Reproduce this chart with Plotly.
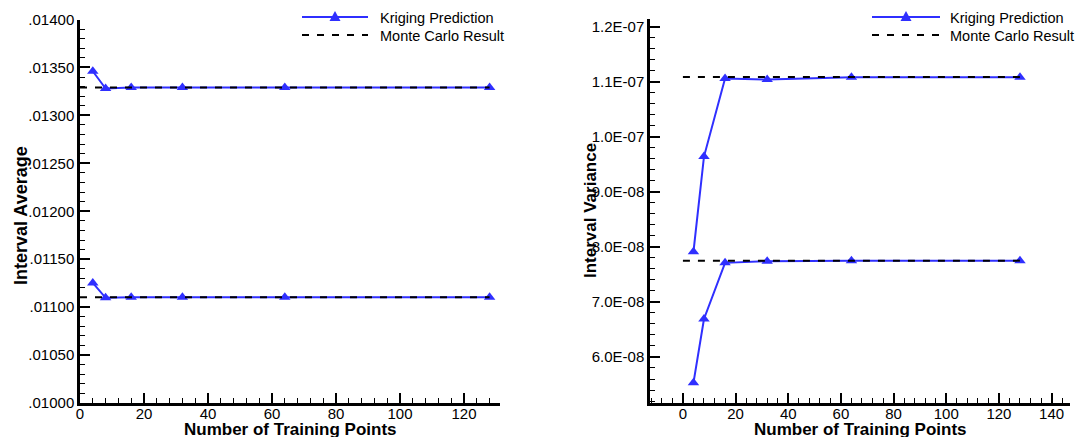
import plotly.graph_objects as go

W, H = 1088, 437

# ---------------- data ----------------
n_train = [4, 8, 16, 32, 64, 128]
mc_x = [0, 128]

avg_upper_kriging = [0.01346, 0.01328, 0.01329, 0.01329, 0.01329, 0.01329]
avg_upper_mc = [0.013292, 0.013292]
avg_lower_kriging = [0.011252, 0.011097, 0.011103, 0.011103, 0.011103, 0.011103]
avg_lower_mc = [0.011104, 0.011104]

var_upper_kriging = [7.91e-8, 9.64e-8, 1.106e-7, 1.104e-7, 1.108e-7, 1.108e-7]
var_upper_mc = [1.1085e-7, 1.1085e-7]
var_lower_kriging = [5.53e-8, 6.69e-8, 7.71e-8, 7.74e-8, 7.75e-8, 7.75e-8]
var_lower_mc = [7.75e-8, 7.75e-8]

avg_tickvals = [0.0100, 0.0105, 0.0110, 0.0115, 0.0120, 0.0125, 0.0130, 0.0135, 0.0140]
avg_ticktext = [".01000", ".01050", ".01100", ".01150", ".01200", ".01250", ".01300", ".01350", ".01400"]
var_tickvals = [6e-8, 7e-8, 8e-8, 9e-8, 1.0e-7, 1.1e-7, 1.2e-7]
var_ticktext = ["6.0E-08", "7.0E-08", "8.0E-08", "9.0E-08", "1.0E-07", "1.1E-07", "1.2E-07"]

legend_labels = ["Kriging Prediction", "Monte Carlo Result"]

# ---------------- styles ----------------
BLUE = "#2f2fff"
FONT = "Liberation Sans, Arial, sans-serif"


def X(px):
    return px / W


def Y(py):
    return 1 - py / H


fig = go.Figure()

krig_style = dict(mode="lines+markers", line=dict(color=BLUE, width=2),
                  marker=dict(symbol="triangle-up", size=10, color=BLUE),
                  showlegend=False, hoverinfo="skip")
mc_style = dict(mode="lines", line=dict(color="black", width=2, dash="7px,8px"),
                showlegend=False, hoverinfo="skip")

fig.add_trace(go.Scatter(x=n_train, y=avg_upper_kriging, xaxis="x", yaxis="y", **krig_style))
fig.add_trace(go.Scatter(x=n_train, y=avg_lower_kriging, xaxis="x", yaxis="y", **krig_style))
fig.add_trace(go.Scatter(x=mc_x, y=avg_upper_mc, xaxis="x", yaxis="y", **mc_style))
fig.add_trace(go.Scatter(x=mc_x, y=avg_lower_mc, xaxis="x", yaxis="y", **mc_style))

fig.add_trace(go.Scatter(x=n_train, y=var_upper_kriging, xaxis="x2", yaxis="y2", **krig_style))
fig.add_trace(go.Scatter(x=n_train, y=var_lower_kriging, xaxis="x2", yaxis="y2", **krig_style))
fig.add_trace(go.Scatter(x=mc_x, y=var_upper_mc, xaxis="x2", yaxis="y2", **mc_style))
fig.add_trace(go.Scatter(x=mc_x, y=var_lower_mc, xaxis="x2", yaxis="y2", **mc_style))

common_axis = dict(showline=True, linecolor="black", linewidth=2.5, mirror=False,
                   showgrid=False, zeroline=False, ticks="inside", ticklen=10,
                   tickwidth=2, tickcolor="black", automargin=False,
                   tickfont=dict(family=FONT, size=15, color="black"))

fig.update_layout(
    width=W, height=H,
    margin=dict(l=0, r=0, t=0, b=0, autoexpand=False),
    paper_bgcolor="white", plot_bgcolor="white",
    showlegend=False,
    xaxis=dict(domain=[X(80), X(500)], range=[0, 131.25], anchor="y",
               tickmode="linear", tick0=0, dtick=20, ticklabelstandoff=-5,
               minor=dict(ticks="inside", ticklen=5, tickwidth=1, tickcolor="black",
                          tickmode="linear", tick0=0, dtick=4, showgrid=False),
               **common_axis),
    yaxis=dict(domain=[Y(403), Y(19.5)], range=[0.010, 0.014], anchor="x",
               tickmode="array", tickvals=avg_tickvals, ticktext=avg_ticktext,
               minor=dict(ticks="inside", ticklen=5, tickwidth=1, tickcolor="black",
                          tickmode="linear", tick0=0.010, dtick=0.0001, showgrid=False),
               **common_axis),
    xaxis2=dict(domain=[X(650), X(1070)], range=[-12.5, 147], anchor="y2",
                tickmode="linear", tick0=0, dtick=20, ticklabelstandoff=-5,
                minor=dict(ticks="inside", ticklen=5, tickwidth=1, tickcolor="black",
                           tickmode="linear", tick0=0, dtick=4, showgrid=False),
                **common_axis),
    yaxis2=dict(domain=[Y(403), Y(19)], range=[5.164e-8, 1.214e-7], anchor="x2",
                tickmode="array", tickvals=var_tickvals, ticktext=var_ticktext,
                minor=dict(ticks="inside", ticklen=5, tickwidth=1, tickcolor="black",
                           tickmode="linear", tick0=0, dtick=2e-9, showgrid=False),
                **common_axis),
)

annotations = []
shapes = []

# axis titles
title_font = dict(family=FONT, size=17, color="black")
for cx in (290, 860):
    annotations.append(dict(text="<b>Number of Training Points</b>", x=X(cx), y=Y(429.5),
                            xref="paper", yref="paper", xanchor="center", yanchor="middle",
                            showarrow=False, font=title_font))
annotations.append(dict(text="<b>Interval Average</b>", x=X(21), y=Y(216),
                        xref="paper", yref="paper", xanchor="center", yanchor="middle",
                        textangle=-90, showarrow=False,
                        font=dict(family=FONT, size=18, color="black")))
annotations.append(dict(text="<b>Interval Variance</b>", x=X(590), y=Y(211),
                        xref="paper", yref="paper", xanchor="center", yanchor="middle",
                        textangle=-90, showarrow=False, font=title_font))

# custom legends
for (lx0, lx1, tx) in ((302, 368, 378), (872, 940, 948)):
    y1, y2 = 17, 35
    shapes.append(dict(type="line", xref="paper", yref="paper",
                       x0=X(lx0), x1=X(lx1), y0=Y(y1), y1=Y(y1),
                       line=dict(color=BLUE, width=2)))
    cx = (lx0 + lx1) / 2
    shapes.append(dict(type="path", xref="paper", yref="paper",
                       path=f"M{X(cx - 5.5)},{Y(y1 + 4)} L{X(cx + 5.5)},{Y(y1 + 4)} L{X(cx)},{Y(y1 - 6)} Z",
                       fillcolor=BLUE, line=dict(color=BLUE, width=0)))
    shapes.append(dict(type="line", xref="paper", yref="paper",
                       x0=X(lx0), x1=X(lx1), y0=Y(y2), y1=Y(y2),
                       line=dict(color="black", width=2, dash="7px,8px")))
    for lbl, yy in zip(legend_labels, (y1 + 1, y2 + 1)):
        annotations.append(dict(text=lbl, x=X(tx), y=Y(yy), xref="paper", yref="paper",
                                xanchor="left", yanchor="middle", showarrow=False,
                                font=dict(family=FONT, size=14.5, color="black")))

fig.update_layout(annotations=annotations, shapes=shapes)

fig.write_html("out.html")
